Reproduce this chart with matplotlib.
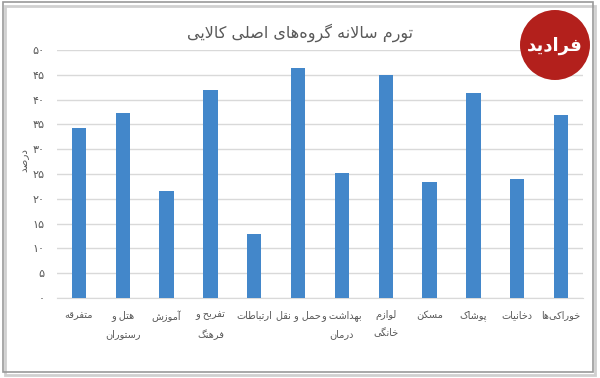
import matplotlib
matplotlib.use('Agg')
import matplotlib.pyplot as plt
from matplotlib.patches import Rectangle, Circle

# --- data (left to right as drawn) ---
categories = ['متفرقه', 'هتل و\nرستوران', 'آموزش', 'تفریح و\nفرهنگ', 'ارتباطات',
              'حمل و نقل', 'بهداشت و\nدرمان', 'لوازم\nخانگی', 'مسکن', 'پوشاک',
              'دخانیات', 'خوراکی‌ها']
values = [34.3, 37.2, 21.6, 41.9, 12.9, 46.4, 25.3, 45.0, 23.3, 41.4, 23.9, 36.8]
yticks = [0, 5, 10, 15, 20, 25, 30, 35, 40, 45, 50]
title = 'تورم سالانه گروه‌های اصلی کالایی'
ylabel = 'درصد'

# --- minimal persian shaping (matplotlib does no shaping / bidi) ---
# char: (isolated, final, initial, medial); right-joining letters have only 2 forms
FORMS = {
    'ا': (0xFE8D, 0xFE8E), 'آ': (0xFE81, 0xFE82), 'د': (0xFEA9, 0xFEAA),
    'ر': (0xFEAD, 0xFEAE), 'ز': (0xFEAF, 0xFEB0), 'و': (0xFEED, 0xFEEE),
    'ب': (0xFE8F, 0xFE90, 0xFE91, 0xFE92), 'پ': (0xFB56, 0xFB57, 0xFB58, 0xFB59),
    'ت': (0xFE95, 0xFE96, 0xFE97, 0xFE98), 'ح': (0xFEA1, 0xFEA2, 0xFEA3, 0xFEA4),
    'خ': (0xFEA5, 0xFEA6, 0xFEA7, 0xFEA8), 'س': (0xFEB1, 0xFEB2, 0xFEB3, 0xFEB4),
    'ش': (0xFEB5, 0xFEB6, 0xFEB7, 0xFEB8), 'ص': (0xFEB9, 0xFEBA, 0xFEBB, 0xFEBC),
    'ط': (0xFEC1, 0xFEC2, 0xFEC3, 0xFEC4), 'ف': (0xFED1, 0xFED2, 0xFED3, 0xFED4),
    'ق': (0xFED5, 0xFED6, 0xFED7, 0xFED8), 'ک': (0xFB8E, 0xFB8F, 0xFB90, 0xFB91),
    'گ': (0xFB92, 0xFB93, 0xFB94, 0xFB95), 'ل': (0xFEDD, 0xFEDE, 0xFEDF, 0xFEE0),
    'م': (0xFEE1, 0xFEE2, 0xFEE3, 0xFEE4), 'ن': (0xFEE5, 0xFEE6, 0xFEE7, 0xFEE8),
    'ه': (0xFEE9, 0xFEEA, 0xFEEB, 0xFEEC), 'ی': (0xFBFC, 0xFBFD, 0xFBFE, 0xFBFF),
    'LA': (0xFEFB, 0xFEFC), 'LAA': (0xFEF5, 0xFEF6),
}


def shape_line(s):
    # lam + alef ligature
    toks = []
    i = 0
    while i < len(s):
        if s[i] == 'ل' and i + 1 < len(s) and s[i + 1] in 'اآ':
            toks.append('LA' if s[i + 1] == 'ا' else 'LAA')
            i += 2
        else:
            toks.append(s[i])
            i += 1
    out = []
    for k, t in enumerate(toks):
        if t not in FORMS:
            if t != '\u200c':
                out.append(t)
            continue
        prev = toks[k - 1] if k > 0 else None
        nxt = toks[k + 1] if k + 1 < len(toks) else None
        join_prev = prev in FORMS and len(FORMS[prev]) == 4
        join_next = len(FORMS[t]) == 4 and nxt in FORMS
        f = FORMS[t]
        if join_prev and join_next:
            c = f[3]
        elif join_prev:
            c = f[1]
        elif join_next:
            c = f[2]
        else:
            c = f[0]
        out.append(chr(c))
    return ''.join(out)[::-1]


def fa(s):
    return '\n'.join(shape_line(line) for line in s.split('\n'))


def fa_num(n):
    return ''.join(chr(0x06F0 + int(d)) for d in str(n))


plt.rcParams['font.family'] = ['DejaVu Sans']
grey = '#595959'

fig = plt.figure(figsize=(6, 3.78), dpi=100)
ax = fig.add_axes([57 / 600, 1 - 298 / 378, 526 / 600, 248 / 378])

x = list(range(len(categories)))
ax.bar(x, values, width=0.33, color='#4387CA', zorder=3)
ax.set_xlim(-0.5, len(categories) - 0.5)
ax.set_ylim(0, 50)
ax.set_yticks(yticks)
ax.set_yticklabels([fa_num(v) for v in yticks], color=grey, fontsize=8)
ax.set_xticks(x)
ax.set_xticklabels([fa(c) for c in categories], color=grey, fontsize=7,
                   linespacing=2.0)
ax.tick_params(axis='both', length=0)
ax.tick_params(axis='x', pad=9)
ax.tick_params(axis='y', pad=9)
ax.grid(axis='y', color='#d9d9d9', linewidth=1, zorder=0)
for sp in ['top', 'right', 'left']:
    ax.spines[sp].set_visible(False)
ax.spines['bottom'].set_color('#d9d9d9')

fig.text(0.5, 1 - 33 / 378, fa(title), ha='center', va='center',
         fontsize=11.5, color=grey)
fig.text(24 / 600, 1 - 160 / 378, fa(ylabel), ha='center', va='center',
         rotation=90, fontsize=7.5, color=grey)

# logo badge top right
fig.patches.append(Circle((5.55, 3.78 - 0.45), 0.35,
                          transform=fig.dpi_scale_trans, facecolor='#b3201c',
                          edgecolor='none', zorder=5))
fig.text(555 / 600, 1 - 46 / 378, fa('فرادید'), ha='center', va='center',
         fontsize=13, color='white', fontweight='bold', zorder=6)

# outer frame with a light shadow
fig.patches.append(Rectangle((5 / 600, 3 / 378), 590 / 600, 369 / 378,
                             transform=fig.transFigure, fill=False,
                             edgecolor='#d0d0d0', linewidth=2))
fig.patches.append(Rectangle((3 / 600, 6 / 378), 590 / 600, 370 / 378,
                             transform=fig.transFigure, fill=False,
                             edgecolor='#9a9a9a', linewidth=1.2))

fig.savefig('out.png', dpi=100)
